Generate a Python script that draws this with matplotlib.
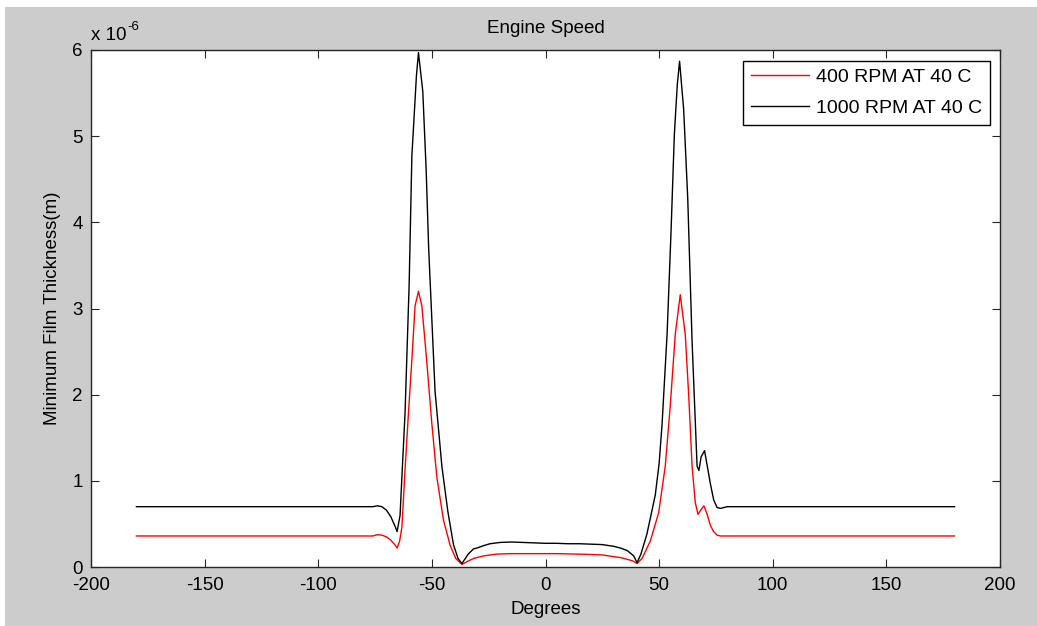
import numpy as np
import matplotlib
matplotlib.use("Agg")
import matplotlib.pyplot as plt
from matplotlib.ticker import FuncFormatter, MultipleLocator

plt.rcParams["font.family"] = ["Liberation Sans", "DejaVu Sans"]
plt.rcParams["font.size"] = 13.5
plt.rcParams["axes.unicode_minus"] = False

# crank angle (deg) and minimum film thickness (micrometres)
deg_400 = [-180, -76, -74, -72, -70, -68, -66, -65.3, -64.2, -63.2, -61.8, -60.3,
           -58.7, -57.4, -55.9, -54.4, -52.2, -50, -47.8, -44.9, -42, -39.5, -36.8,
           -34, -31.6, -27, -21.4, -15, -5, 5, 18.2, 25, 30, 32.9, 35.8, 38.5, 40.3,
           42.5, 46.1, 49.8, 52.7, 54.9, 57.1, 59.3, 61.5, 63.0, 64.5, 65.9, 67.1,
           68.3, 69.7, 71, 72.6, 74, 75.5, 77, 180]
h_400 = [0.36, 0.36, 0.375, 0.37, 0.35, 0.31, 0.25, 0.22, 0.30, 0.46, 1.13, 1.79,
         2.45, 3.03, 3.20, 3.03, 2.37, 1.66, 1.04, 0.545, 0.255, 0.10, 0.03,
         0.07, 0.10, 0.13, 0.15, 0.155, 0.155, 0.155, 0.147, 0.14, 0.12, 0.11, 0.09, 0.07, 0.04,
         0.10, 0.30, 0.63, 1.17, 1.87, 2.70, 3.16, 2.70, 2.0, 1.17, 0.75, 0.61,
         0.66, 0.71, 0.62, 0.48, 0.41, 0.37, 0.36, 0.36]

deg_1000 = [-180, -76, -74, -72, -70, -68, -66, -65.3, -64, -63.2, -61.8, -60, -58.8,
            -56.8, -55.9, -54, -52.5, -51.4, -48.6, -45.6, -43, -40.5, -38.5, -36.8,
            -34, -31.7, -30.2, -27, -24.4, -20, -15, -10, -5, 0, 5, 10, 15, 20, 25,
            30, 33, 36, 38.8, 40.3, 42, 44.6, 46, 48.3, 50, 51.3, 53.5, 55.2, 56.7,
            58, 59, 60.8, 62.6, 64.5, 66.7, 67.5, 68.5, 70, 71, 72.6, 74, 75.5, 77,
            80, 180]
h_1000 = [0.70, 0.70, 0.71, 0.70, 0.66, 0.58, 0.46, 0.41, 0.60, 1.04, 1.79, 3.28, 4.77,
          5.70, 5.97, 5.52, 4.60, 3.69, 2.04, 1.17, 0.65, 0.26, 0.10, 0.04,
          0.15, 0.21, 0.22, 0.25, 0.27, 0.285, 0.29, 0.285, 0.28, 0.275, 0.275, 0.27, 0.27, 0.265, 0.26,
          0.24, 0.22, 0.19, 0.13, 0.05, 0.15, 0.38, 0.55, 0.835, 1.20, 1.66, 2.70, 3.86, 5.02,
          5.60, 5.87, 5.31, 4.27, 2.62, 1.17, 1.12, 1.28, 1.35, 1.20, 0.96, 0.78, 0.69, 0.68,
          0.70, 0.70]

labels = ["400 RPM AT 40 C", "1000 RPM AT 40 C"]

fig = plt.figure(figsize=(10.37, 6.26), dpi=100, facecolor="white")
# grey figure area of the screenshot
fig.patches.append(plt.Rectangle((5 / 1037, 0), 1, 1 - 7 / 626, transform=fig.transFigure,
                                 facecolor="#cccccc", edgecolor="none", zorder=-10))

ax = fig.add_axes([91 / 1037, 1 - 567 / 626, 909 / 1037, 517 / 626])
ax.plot(deg_400, np.array(h_400) * 1e-6, color="red", lw=1, label=labels[0])
ax.plot(deg_1000, np.array(h_1000) * 1e-6, color="black", lw=1, label=labels[1])

ax.set_xlim(-200, 200)
ax.set_ylim(0, 6e-6)
ax.xaxis.set_major_locator(MultipleLocator(50))
ax.yaxis.set_major_locator(MultipleLocator(1e-6))
ax.yaxis.set_major_formatter(FuncFormatter(lambda v, p: f"{v / 1e-6:.0f}"))
ax.tick_params(direction="in", length=6, width=0.8, top=True, right=True, color="#262626")
ax.tick_params(axis="x", pad=7)
ax.tick_params(axis="y", pad=6)
for s in ax.spines.values():
    s.set_color("#262626")
    s.set_linewidth(1)

# MATLAB style exponent label
ax.annotate("x 10", (0, 1), xycoords="axes fraction", xytext=(0, 4),
            textcoords="offset points", ha="left", va="bottom")
ax.annotate("-6", (0, 1), xycoords="axes fraction", xytext=(26, 12),
            textcoords="offset points", ha="left", va="bottom", fontsize=9.5)

ax.set_title("Engine Speed", pad=12, fontsize=13.5)
ax.set_xlabel("Degrees", labelpad=5)
ax.set_ylabel("Minimum Film Thickness(m)", labelpad=8)

leg = ax.legend(loc="upper right", bbox_to_anchor=(0.989, 0.979), borderaxespad=0,
                fancybox=False, framealpha=1, edgecolor="black", handlelength=3.0,
                labelspacing=0.68, borderpad=0.4, handletextpad=0.35, fontsize=14)
leg.get_frame().set_linewidth(1)

fig.savefig("out.png", dpi=100, facecolor="white")
